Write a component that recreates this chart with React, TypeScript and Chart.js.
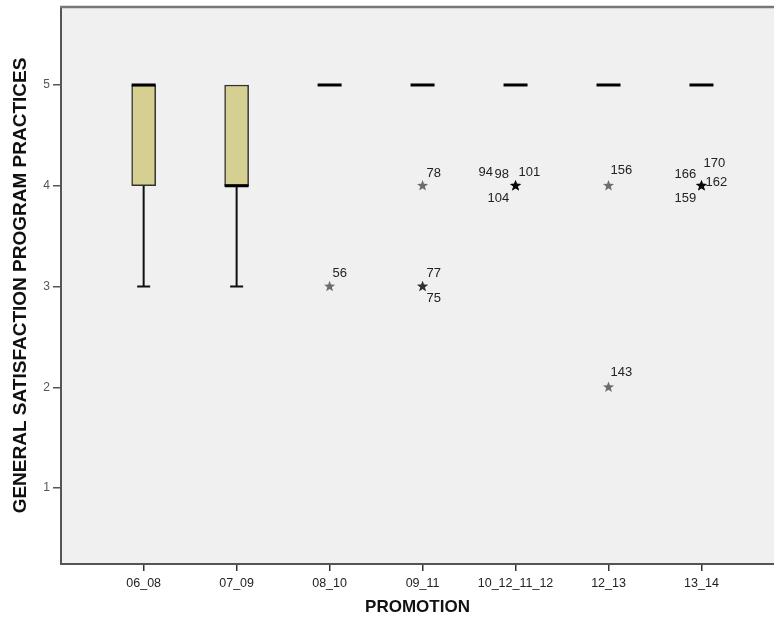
import React, { useEffect, useRef } from "react";
import { Chart, registerables } from "chart.js";

Chart.register(...registerables);

// ---- data ----
const categories = ["06_08", "07_09", "08_10", "09_11", "10_12_11_12", "12_13", "13_14"];
const q1 = [4, 4, 5, 5, 5, 5, 5];
const medians = [5, 4, 5, 5, 5, 5, 5];
const q3 = [5, 5, 5, 5, 5, 5, 5];
const whiskerLow = [3, 3, 5, 5, 5, 5, 5];
const whiskerHigh = [5, 5, 5, 5, 5, 5, 5];
const yTicks = [1, 2, 3, 4, 5];

// outliers: category index, value, case ids
const outlierCategory = [2, 3, 3, 4, 5, 5, 6];
const outlierValue = [3, 4, 3, 4, 4, 2, 4];
const outlierCases = [
  ["56"],
  ["78"],
  ["77", "75"],
  ["94", "98", "101", "104"],
  ["156"],
  ["143"],
  ["166", "170", "162", "159"],
];

// layout of the case-id labels (pixel offsets from the star), kept separate from data
const labelOffsets: Record<string, [number, number]> = {
  "56": [3, -13],
  "78": [4, -12],
  "77": [4, -13],
  "75": [4, 12],
  "94": [-37, -13],
  "98": [-21, -11],
  "101": [3, -13],
  "104": [-28, 13],
  "156": [2, -15],
  "143": [2, -15],
  "166": [-27, -11],
  "170": [2, -22],
  "162": [4, -3],
  "159": [-27, 13],
};

const FONT = "'Liberation Sans', Arial, Helvetica, sans-serif";
const BOX_W = 24;

function starPath(ctx: CanvasRenderingContext2D, cx: number, cy: number, R: number, r: number) {
  ctx.beginPath();
  for (let i = 0; i < 10; i++) {
    const rad = i % 2 === 0 ? R : r;
    const a = -Math.PI / 2 + (i * Math.PI) / 5;
    const x = cx + rad * Math.cos(a);
    const y = cy + rad * Math.sin(a);
    if (i === 0) ctx.moveTo(x, y);
    else ctx.lineTo(x, y);
  }
  ctx.closePath();
}

const boxPlotPlugin = {
  id: "boxplotExtras",
  beforeDraw(chart: any) {
    const { ctx, chartArea } = chart;
    ctx.save();
    ctx.fillStyle = "#f0f0f0";
    ctx.fillRect(chartArea.left, chartArea.top, chartArea.right - chartArea.left, chartArea.bottom - chartArea.top);
    ctx.restore();
  },
  afterDatasetsDraw(chart: any) {
    const { ctx, scales, chartArea } = chart;
    const xs = scales.x;
    const ys = scales.y;
    ctx.save();
    // whiskers
    ctx.strokeStyle = "#111";
    ctx.lineWidth = 2;
    categories.forEach((_, i) => {
      const x = xs.getPixelForValue(i);
      if (whiskerLow[i] < q1[i]) {
        const yA = ys.getPixelForValue(q1[i]);
        const yB = ys.getPixelForValue(whiskerLow[i]);
        ctx.beginPath();
        ctx.moveTo(x, yA);
        ctx.lineTo(x, yB);
        ctx.moveTo(x - 6.5, yB);
        ctx.lineTo(x + 6.5, yB);
        ctx.stroke();
      }
      if (whiskerHigh[i] > q3[i]) {
        const yA = ys.getPixelForValue(q3[i]);
        const yB = ys.getPixelForValue(whiskerHigh[i]);
        ctx.beginPath();
        ctx.moveTo(x, yA);
        ctx.lineTo(x, yB);
        ctx.moveTo(x - 6.5, yB);
        ctx.lineTo(x + 6.5, yB);
        ctx.stroke();
      }
    });
    // medians
    ctx.lineWidth = 3;
    ctx.strokeStyle = "#000";
    categories.forEach((_, i) => {
      const x = xs.getPixelForValue(i);
      const y = ys.getPixelForValue(medians[i]);
      ctx.beginPath();
      ctx.moveTo(x - BOX_W / 2, y);
      ctx.lineTo(x + BOX_W / 2, y);
      ctx.stroke();
    });
    // outliers
    outlierCategory.forEach((c, k) => {
      const x = xs.getPixelForValue(c);
      const y = ys.getPixelForValue(outlierValue[k]);
      const n = outlierCases[k].length;
      for (let j = 0; j < n; j++) {
        ctx.fillStyle = "rgba(0,0,0,0.55)";
        starPath(ctx, x, y, 5.8, 2.4);
        ctx.fill();
      }
      ctx.fillStyle = "#222";
      ctx.font = `13px ${FONT}`;
      ctx.textAlign = "left";
      ctx.textBaseline = "middle";
      outlierCases[k].forEach((id) => {
        const off = labelOffsets[id] || [4, -12];
        ctx.fillText(id, x + off[0], y + off[1]);
      });
    });
    // frame
    ctx.lineCap = "butt";
    ctx.strokeStyle = "#555";
    ctx.lineWidth = 2;
    ctx.beginPath();
    ctx.moveTo(chartArea.right, chartArea.bottom);
    ctx.lineTo(chartArea.left, chartArea.bottom);
    ctx.lineTo(chartArea.left, chartArea.top);
    ctx.stroke();
    ctx.strokeStyle = "#777";
    ctx.lineWidth = 2.5;
    ctx.beginPath();
    ctx.moveTo(chartArea.left - 1, chartArea.top);
    ctx.lineTo(chartArea.right, chartArea.top);
    ctx.stroke();
    ctx.restore();
  },
};

export default function App() {
  const ref = useRef<HTMLCanvasElement | null>(null);
  useEffect(() => {
    if (!ref.current) return;
    const chart = new Chart(ref.current, {
      type: "bar",
      data: {
        datasets: [
          {
            data: categories.map((_, i) => ({ x: i, y: [q1[i], q3[i]] })) as any,
            backgroundColor: "#d6cf92",
            borderColor: "#333",
            borderWidth: 1.5,
            borderSkipped: false,
            barThickness: BOX_W,
          },
        ],
      },
      options: {
        animation: false,
        responsive: false,
        devicePixelRatio: 1,
        layout: { padding: { top: 7, left: 0, right: 0, bottom: 0 } },
        plugins: { legend: { display: false }, tooltip: { enabled: false } },
        scales: {
          x: {
            type: "linear",
            min: -0.889,
            max: 6.78,
            offset: false,
            afterBuildTicks: (s: any) => {
              s.ticks = categories.map((_, i) => ({ value: i }));
            },
            afterFit: (s: any) => {
              s.height = 60;
              s.paddingLeft = 0;
              s.paddingRight = 0;
            },
            ticks: {
              autoSkip: false,
              maxRotation: 0,
              padding: 5,
              color: "#222",
              font: { family: FONT, size: 12.5 },
              callback: (v: any) => categories[Math.round(Number(v))] ?? "",
            },
            grid: { offset: false, drawOnChartArea: false, drawTicks: true, tickLength: 7, color: "#333", lineWidth: 1.5 },
            border: { display: false },
            title: {
              display: true,
              text: "PROMOTION",
              color: "#111",
              font: { family: FONT, size: 17, weight: "bold", lineHeight: 1 },
              padding: { top: 0, bottom: 8 },
            },
          },
          y: {
            type: "linear",
            min: 0.246,
            max: 5.774,
            afterBuildTicks: (s: any) => {
              s.ticks = yTicks.map((v) => ({ value: v }));
            },
            afterFit: (s: any) => {
              s.width = 61;
              s.paddingTop = 0;
              s.paddingBottom = 0;
            },
            ticks: {
              padding: 3,
              color: "#555",
              font: { family: FONT, size: 12 },
            },
            grid: { drawOnChartArea: false, drawTicks: true, tickLength: 8, color: "#555", lineWidth: 1.5 },
            border: { display: false },
            title: {
              display: true,
              text: "GENERAL SATISFACTION PROGRAM PRACTICES",
              color: "#111",
              font: { family: FONT, size: 19, weight: "bold", lineHeight: 1 },
              padding: { top: 11, bottom: 0 },
            },
          },
        },
      },
      plugins: [boxPlotPlugin],
    } as any);
    return () => chart.destroy();
  }, []);
  return (
    <div style={{ position: "fixed", left: 0, top: 0, width: 774, height: 624, background: "#fff" }}>
      <canvas ref={ref} width={774} height={624} style={{ display: "block", width: 774, height: 624 }} />
    </div>
  );
}
